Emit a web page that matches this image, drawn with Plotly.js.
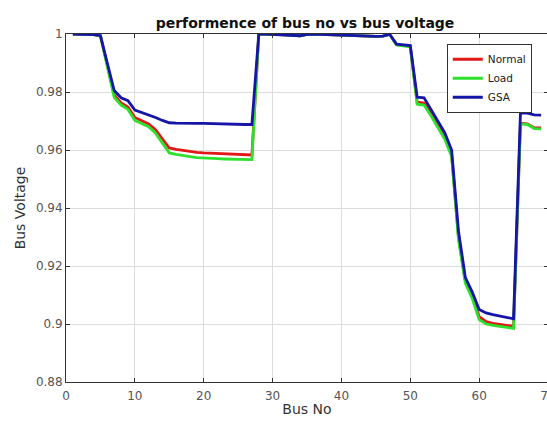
<!DOCTYPE html>
<html>
<head>
<meta charset="utf-8">
<script src="https://cdn.plot.ly/plotly-3.0.1.min.js"></script>
<style>
html,body{margin:0;padding:0;overflow:hidden;background:#fff;width:547px;height:423px;}
#chart{width:560px;height:423px;}
</style>
</head>
<body>
<div id="chart"></div>
<script>
var busNo = [1,2,3,4,5,6,7,8,9,10,11,12,13,14,15,16,17,18,19,20,21,22,23,24,25,26,27,28,29,30,31,32,33,34,35,36,37,38,39,40,41,42,43,44,45,46,47,48,49,50,51,52,53,54,55,56,57,58,59,60,61,62,63,64,65,66,67,68,69];

var normalV = [1.0000,1.0000,0.9999,0.9998,0.9994,0.9895,0.9790,0.9762,0.9748,0.9712,
0.9702,0.9690,0.9670,0.9638,0.9607,0.9602,0.9598,0.9595,0.9592,0.9590,
0.9589,0.9588,0.9587,0.9586,0.9585,0.9584,0.9583,1.0000,1.0000,0.9999,
0.9998,0.9997,0.9996,0.9994,0.9999,1.0000,0.9999,0.9998,0.9997,0.9996,
0.9995,0.9994,0.9993,0.9992,0.9992,0.9993,0.9999,0.9963,0.9960,0.9958,
0.9765,0.9762,0.9725,0.9685,0.9645,0.9585,0.9300,0.9150,0.9095,0.9025,
0.9008,0.9002,0.8998,0.8995,0.8992,0.9692,0.9690,0.9677,0.9676];

var loadV = [1.0000,1.0000,0.9999,0.9998,0.9994,0.9890,0.9782,0.9755,0.9740,0.9702,
0.9692,0.9680,0.9658,0.9622,0.9590,0.9585,0.9580,0.9577,0.9574,0.9572,
0.9571,0.9570,0.9569,0.9569,0.9568,0.9568,0.9567,1.0000,1.0000,0.9999,
0.9998,0.9997,0.9996,0.9994,0.9999,1.0000,0.9999,0.9998,0.9997,0.9996,
0.9995,0.9994,0.9993,0.9992,0.9992,0.9993,0.9999,0.9962,0.9958,0.9956,
0.9758,0.9755,0.9718,0.9678,0.9638,0.9578,0.9290,0.9140,0.9088,0.9015,
0.9000,0.8995,0.8991,0.8988,0.8985,0.9690,0.9688,0.9674,0.9673];

var gsaV = [1.0000,1.0000,0.9999,0.9998,0.9994,0.9900,0.9805,0.9780,0.9770,0.9738,
0.9730,0.9722,0.9712,0.9702,0.9694,0.9693,0.9692,0.9692,0.9692,0.9692,
0.9691,0.9691,0.9690,0.9690,0.9689,0.9688,0.9688,1.0000,1.0000,0.9999,
0.9998,0.9997,0.9996,0.9994,0.9999,1.0000,0.9999,0.9998,0.9997,0.9996,
0.9995,0.9994,0.9993,0.9992,0.9992,0.9993,0.9999,0.9965,0.9962,0.9960,
0.9782,0.9780,0.9740,0.9700,0.9660,0.9600,0.9320,0.9160,0.9110,0.9050,
0.9038,0.9032,0.9027,0.9022,0.9018,0.9728,0.9727,0.9721,0.9720];

var seriesNames = ["Normal","Load","GSA"];
var xTicks = [0,10,20,30,40,50,60,70];
var yTicks = [0.88,0.9,0.92,0.94,0.96,0.98,1];

var traces = [
  {x: busNo, y: normalV, name: seriesNames[0], type: "scatter", mode: "lines",
   line: {color: "#e01818", width: 2.8}},
  {x: busNo, y: loadV, name: seriesNames[1], type: "scatter", mode: "lines",
   line: {color: "#2ee02e", width: 2.8}},
  {x: busNo, y: gsaV, name: seriesNames[2], type: "scatter", mode: "lines",
   line: {color: "#1515a8", width: 2.8}}
];

var FONT = "DejaVu Sans, Verdana, sans-serif";

var axisCommon = {
  showline: true, linecolor: "#333333", linewidth: 1, mirror: "ticks",
  ticks: "inside", ticklen: 4, tickcolor: "#333333",
  showgrid: true, gridcolor: "#dcdcdc", gridwidth: 1,
  zeroline: false,
  tickfont: {family: FONT, size: 12, color: "#555555"}
};

var layout = {
  width: 560, height: 423,
  margin: {l: 66, r: 12, t: 34, b: 41, pad: 0},
  paper_bgcolor: "#ffffff", plot_bgcolor: "#ffffff",
  font: {family: FONT, color: "#222"},
  title: {text: "<b>performence of bus no vs bus voltage</b>",
          font: {family: FONT, size: 14, color: "#111"},
          x: 305/560, xanchor: "center", y: 0.946, yanchor: "middle"},
  xaxis: Object.assign({}, axisCommon, {
    range: [0, 70], tickvals: xTicks, ticklabelstandoff: 3,
    title: {text: "Bus No", font: {family: FONT, size: 14, color: "#333"}, standoff: 1}
  }),
  yaxis: Object.assign({}, axisCommon, {
    range: [0.88, 1], tickvals: yTicks,
    title: {text: "Bus Voltage", font: {family: FONT, size: 14, color: "#333"}, standoff: 6}
  }),
  showlegend: true,
  legend: {x: 0.79, y: 0.972, xanchor: "left", yanchor: "top",
           bgcolor: "#ffffff", bordercolor: "#333333", borderwidth: 1,
           font: {family: FONT, size: 10.5, color: "#222"},
           tracegroupgap: 0}
};

Plotly.newPlot("chart", traces, layout, {displayModeBar: false, staticPlot: true});
</script>
</body>
</html>
